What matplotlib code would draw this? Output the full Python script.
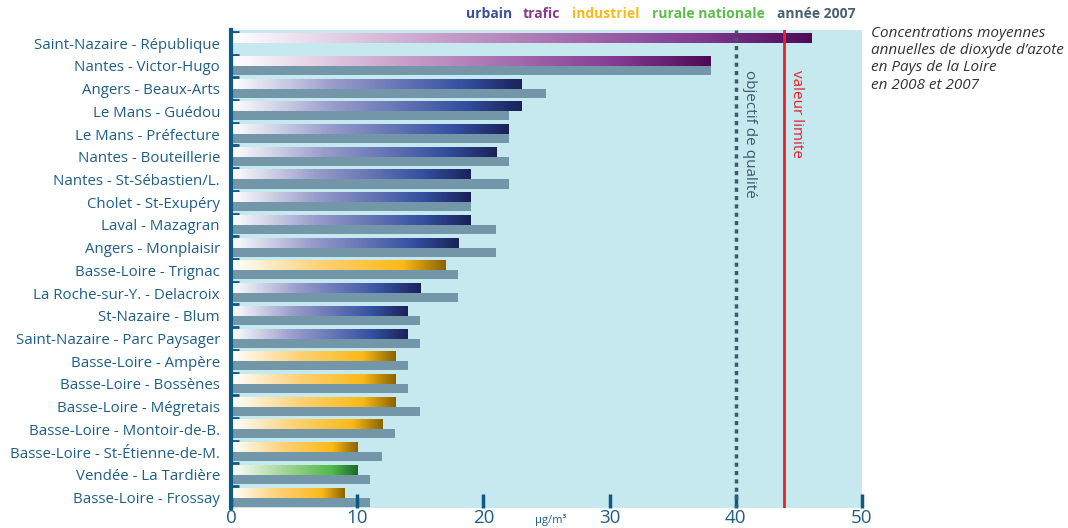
import numpy as np
import matplotlib
matplotlib.use('Agg')
import matplotlib.pyplot as plt
from matplotlib.colors import LinearSegmentedColormap

plt.rcParams['font.family'] = ['Open Sans', 'DejaVu Sans']

# stations, top to bottom
stations = ['Saint-Nazaire - République', 'Nantes - Victor-Hugo', 'Angers - Beaux-Arts',
            'Le Mans - Guédou', 'Le Mans - Préfecture', 'Nantes - Bouteillerie',
            'Nantes - St-Sébastien/L.', 'Cholet - St-Exupéry', 'Laval - Mazagran',
            'Angers - Monplaisir', 'Basse-Loire - Trignac', 'La Roche-sur-Y. - Delacroix',
            'St-Nazaire - Blum', 'Saint-Nazaire - Parc Paysager', 'Basse-Loire - Ampère',
            'Basse-Loire - Bossènes', 'Basse-Loire - Mégretais', 'Basse-Loire - Montoir-de-B.',
            'Basse-Loire - St-Étienne-de-M.', 'Vendée - La Tardière', 'Basse-Loire - Frossay']
types = ['trafic', 'trafic', 'urbain', 'urbain', 'urbain', 'urbain', 'urbain', 'urbain',
         'urbain', 'urbain', 'industriel', 'urbain', 'urbain', 'urbain', 'industriel',
         'industriel', 'industriel', 'industriel', 'industriel', 'rurale', 'industriel']
val_2008 = [46, 38, 23, 23, 22, 21, 19, 19, 19, 18, 17, 15, 14, 14, 13, 13, 13, 12, 10, 10, 9]
val_2007 = [np.nan, 38, 25, 22, 22, 22, 22, 19, 21, 21, 18, 18, 15, 15, 14, 14, 15, 13, 12, 11, 11]

objectif = 40
limite = 43.8

txtcol = '#1f5e87'
axcol = '#0c5a85'

# gradient colormaps: white -> colour -> dark end
cmaps = {
    'urbain': LinearSegmentedColormap.from_list('u', [(0, '#ffffff'), (0.35, '#9a9ccb'), (0.8, '#3450a0'), (1, '#1a2258')]),
    'trafic': LinearSegmentedColormap.from_list('t', [(0, '#ffffff'), (0.35, '#c9a2cb'), (0.8, '#833c93'), (1, '#4d0a55')]),
    'industriel': LinearSegmentedColormap.from_list('i', [(0, '#ffffff'), (0.4, '#fdd37a'), (0.8, '#fbb917'), (1, '#8a6400')]),
    'rurale': LinearSegmentedColormap.from_list('r', [(0, '#ffffff'), (0.35, '#b3dca6'), (0.8, '#50b848'), (1, '#1a6a2a')]),
}

fig = plt.figure(figsize=(10.68, 5.28), dpi=100)
ax = fig.add_axes([0.2163, 0.0379, 0.5908, 0.9053])
ax.set_facecolor('#c6e8ef')

y = np.arange(len(stations))
bars = ax.barh(y - 0.2, val_2008, height=0.4, color='none', edgecolor='none')
ax.barh(y + 0.2, val_2007, height=0.4, color='#7397a8', edgecolor='none')

grad = np.linspace(0, 1, 256).reshape(1, -1)
for b, t in zip(bars, types):
    x0, y0 = b.get_x(), b.get_y()
    w, h = b.get_width(), b.get_height()
    ax.imshow(grad, cmap=cmaps[t], aspect='auto', extent=(x0, x0 + w, y0 + h, y0),
              interpolation='bilinear', zorder=2)

ax.axvline(objectif, color='#3d5a6a', lw=2.5, linestyle=(0, (1.2, 1.2)), zorder=3)
ax.axvline(limite, color='#e8202a', lw=2, zorder=3)
ax.text(objectif + 0.5, 1.2, 'objectif de qualité', rotation=-90, va='top', ha='left',
        color='#3d5a6a', fontsize=11)
ax.text(limite + 0.4, 1.2, 'valeur limite', rotation=-90, va='top', ha='left',
        color='#e8202a', fontsize=11)

ax.set_xlim(0, 50)
ax.set_ylim(20.46, -0.58)
ax.set_xticks([0, 10, 20, 30, 40, 50])
ax.set_xticklabels(['0', '10', '20', '30', '40', '50'], fontsize=13.5, color=txtcol)
ax.tick_params(axis='x', direction='in', length=10, width=2.5, color=axcol, pad=1)
ax.set_yticks(y)
ax.set_yticklabels(stations, fontsize=10.8, color=txtcol)
ax.tick_params(axis='y', which='major', length=0, pad=8)
ax.set_yticks(y - 0.5, minor=True)
ax.tick_params(axis='y', which='minor', direction='in', length=6, width=2, color=axcol)

for s in ['top', 'right', 'bottom']:
    ax.spines[s].set_visible(False)
ax.spines['left'].set_color(axcol)
ax.spines['left'].set_linewidth(3)

fig.text(535 / 1068, 1 - 520 / 528, 'µg/m³', fontsize=8, color=txtcol, ha='left', va='center')

# legend words on top
legend = [('urbain', '#3a4fa0'), ('trafic', '#8a3a96'), ('industriel', '#fbb917'),
          ('rurale nationale', '#5bbd4a'), ('année 2007', '#4a6170')]
xs = [466, 523, 572, 652, 777]
for (word, c), xx in zip(legend, xs):
    fig.text(xx / 1068, 1 - 14 / 528, word, color=c, fontsize=10, fontweight='bold',
             va='center', ha='left')

fig.text(871 / 1068, 1 - 26 / 528, 'Concentrations moyennes\nannuelles de dioxyde d\u2019azote\nen Pays de la Loire\nen 2008 et 2007',
         fontsize=11, style='italic', color='#333333', va='top', ha='left', linespacing=1.2)

fig.savefig('out.png', dpi=100)
